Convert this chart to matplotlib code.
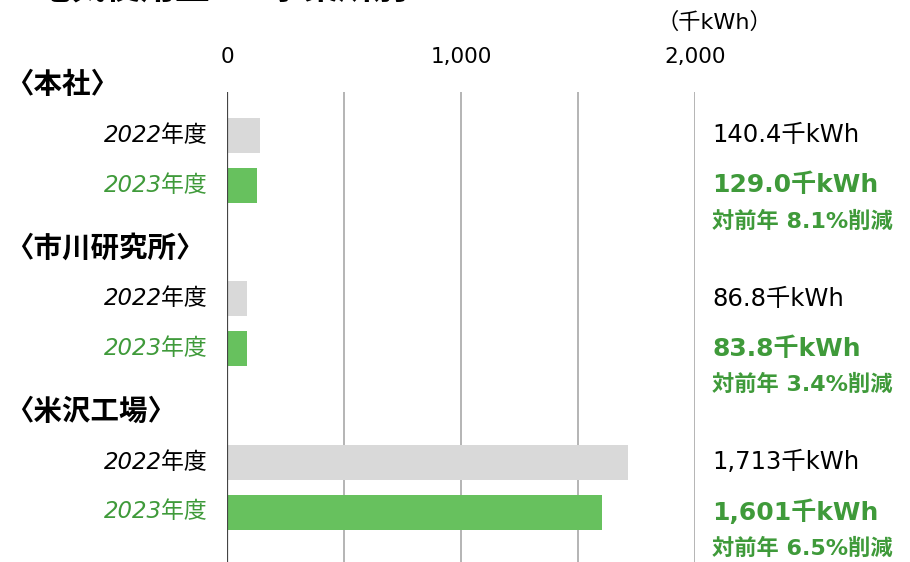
import numpy as np
import matplotlib.pyplot as plt

plt.rcParams['font.family'] = ['DejaVu Sans', 'Noto Sans CJK JP']

# データ
拠点 = ["〈本社〉", "〈市川研究所〉", "〈米沢工場〉"]
年度 = ["2022年度", "2023年度"]
使用量_2022 = [140.4, 86.8, 1713]
使用量_2023 = [129.0, 83.8, 1601]
表示_2022 = ["140.4千kWh", "86.8千kWh", "1,713千kWh"]
表示_2023 = ["129.0千kWh", "83.8千kWh", "1,601千kWh"]
削減 = ["対前年 8.1%削減", "対前年 3.4%削減", "対前年 6.5%削減"]
目盛 = [0, 1000, 2000]
目盛ラベル = ["0", "1,000", "2,000"]

緑 = "#67c15e"
緑文字 = "#3f9a3a"
灰 = "#d9d9d9"

W, H = 910, 562
fig = plt.figure(figsize=(W / 100, H / 100), dpi=100)
ax = fig.add_axes([227 / W, 0, (695 - 227) / W, (H - 92) / H])

paso = 3.27
y22 = np.arange(len(拠点)) * paso
y23 = y22 + 1

ax.barh(y22, 使用量_2022, height=0.7, color=灰, zorder=2)
ax.barh(y23, 使用量_2023, height=0.7, color=緑, zorder=2)

# 目盛り線
for v in [0, 500, 1000, 1500, 2000]:
    if v == 0:
        ax.axvline(v, color="#444444", lw=1.6, zorder=3)
    else:
        ax.axvline(v, color="#a8a8a8", lw=1.2, zorder=1)

ax.set_xlim(0, 2000)
ax.set_ylim(8.54, -0.86)
ax.xaxis.tick_top()
ax.set_xticks(目盛)
ax.set_xticklabels(目盛ラベル, fontsize=15.5)
ax.tick_params(axis="x", length=0, pad=18)
ax.set_yticks([])
for s in ax.spines.values():
    s.set_visible(False)

for i in range(len(拠点)):
    ax.text(-950, y22[i] - 1.0, 拠点[i], fontsize=20.5, ha="left",
            va="center", fontweight="bold", clip_on=False)
    ax.text(-81, y22[i], 年度[0], fontsize=16.5, ha="right", va="center",
            style="italic", color="black", clip_on=False)
    ax.text(-81, y23[i], 年度[1], fontsize=16.5, ha="right", va="center",
            style="italic", color=緑文字, clip_on=False)
    ax.text(2073, y22[i], 表示_2022[i], fontsize=17.5, ha="left", va="center",
            color="black", clip_on=False)
    ax.text(2073, y23[i], 表示_2023[i], fontsize=18, ha="left", va="center",
            color=緑文字, fontweight="bold", clip_on=False)
    ax.text(2073, y23[i] + 0.72, 削減[i], fontsize=16, ha="left", va="center",
            color=緑文字, fontweight="bold", clip_on=False)

fig.text(657 / W, 1 - 22 / H, "（千kWh）", fontsize=16, ha="left", va="center")
fig.text(36 / W, 1 - 7 / H, "電気使用量 ― 事業所別", fontsize=25, fontweight="bold",
         ha="left", va="bottom")

fig.savefig("out.png", dpi=100)
